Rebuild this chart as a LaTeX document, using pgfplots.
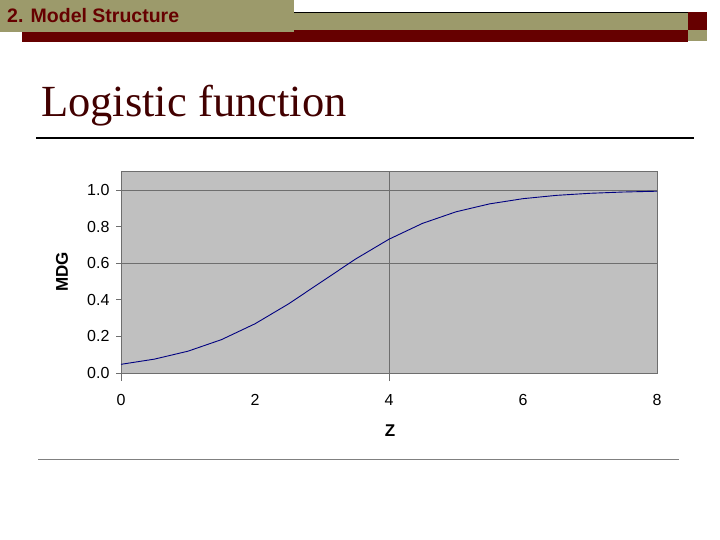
\documentclass[border=0pt]{standalone}
\usepackage{fontspec}
\setmainfont{Liberation Sans}
\newfontfamily\timesfont{Liberation Serif}
\usepackage{pgfplots}
\pgfplotsset{compat=1.18}
\definecolor{olivebar}{HTML}{9C9A6B}
\definecolor{darkred}{HTML}{660000}
\definecolor{titlered}{HTML}{420000}
\definecolor{plotgray}{HTML}{C0C0C0}
\definecolor{curveblue}{HTML}{000080}
\definecolor{gridgray}{HTML}{6E6E6E}

\begin{document}
\begin{tikzpicture}
\begin{scope}[x=1pt,y=-1pt]
  \useasboundingbox (0,0) rectangle (720,540);
  \fill[white] (0,0) rectangle (720,540);
  % slide header
  \fill[darkred] (22,30) rectangle (688,42);
  \fill[olivebar] (294,12) rectangle (688,30);
  \draw[black, line width=0.8pt] (294,12.4) -- (688,12.4);
  \fill[darkred] (688,12) rectangle (707,30);
  \fill[olivebar] (688,30) rectangle (707,41);
  \fill[olivebar] (0,0) rectangle (294,32);
  \node[anchor=base west, inner sep=0, text=darkred,
        font=\fontsize{19.5}{19.5}\selectfont\bfseries] at (7,23) {2. Model Structure};
  % slide title
  \node[anchor=base west, inner sep=0, text=titlered,
        font=\timesfont\fontsize{44.5}{44.5}\selectfont] at (41,117) {Logistic function};
  \draw[black, line width=1.2pt] (36,138) -- (694,138);
  \draw[gray, line width=1pt] (38,459) -- (679,459);
  % axis titles
  \node[rotate=90, font=\bfseries\fontsize{17}{17}\selectfont] at (62,272) {MDG};
  \node[font=\bfseries\fontsize{17}{17}\selectfont] at (390,431) {Z};
\end{scope}

\begin{axis}[
    at={(121pt,-373pt)}, anchor=south west,
    scale only axis, width=536pt, height=202pt,
    xmin=0, xmax=8, ymin=0, ymax=1.1038,
    axis background/.style={fill=plotgray},
    axis line style={draw=gridgray, line width=0.8pt},
    xtick={0,2,4,6,8},
    ytick={0,0.2,0.4,0.6,0.8,1.0},
    xtick style={draw=none},
    ytick style={draw=gridgray, line width=0.8pt},
    tick align=outside, major tick length=5pt,
    ytick pos=left,
    /pgf/number format/assume math mode=true,
    yticklabel style={/pgf/number format/fixed, /pgf/number format/fixed zerofill,
                      /pgf/number format/precision=1, xshift=-3pt},
    xticklabel style={yshift=-13pt},
    tick label style={font=\fontsize{16}{16}\selectfont},
    clip=false,
  ]
  \draw[gridgray, line width=0.8pt] (axis cs:0,0.6) -- (axis cs:8,0.6);
  \draw[gridgray, line width=0.8pt] (axis cs:0,1.0) -- (axis cs:8,1.0);
  \draw[gridgray, line width=0.8pt] (axis cs:4,0) ++(0,-8pt) -- (axis cs:4,1.1038);
  \draw[gridgray, line width=0.8pt] (axis cs:0,0) -- ++(0,-8pt);
  \addplot[curveblue, line width=0.9pt, no markers] coordinates {
    (0,0.0474) (0.5,0.0759) (1,0.1192) (1.5,0.1824) (2,0.2689)
    (2.5,0.3775) (3,0.5) (3.5,0.6225) (4,0.7311) (4.5,0.8176)
    (5,0.8808) (5.5,0.9241) (6,0.9526) (6.5,0.9707) (7,0.9820)
    (7.5,0.9890) (8,0.9933)
  };
\end{axis}
\end{tikzpicture}
\end{document}
